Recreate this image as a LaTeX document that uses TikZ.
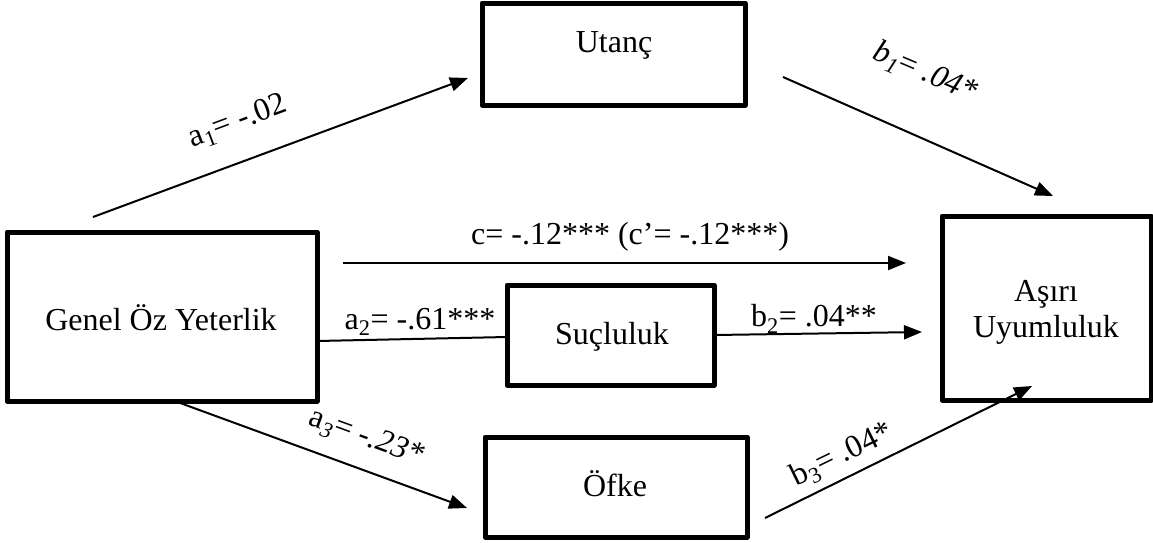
\documentclass[tikz,border=0pt]{standalone}
\usepackage{fontspec}
\setmainfont{Liberation Serif}
\usetikzlibrary{arrows.meta}
\begin{document}
\begin{tikzpicture}[x=1pt,y=-1pt,
  box/.style={draw,line width=5pt,line join=round,inner sep=0pt},
  txt/.style={font=\fontsize{32}{38}\selectfont,inner sep=0pt,align=center},
  conn/.style={line width=2pt,-{Triangle[length=18pt,width=14pt]}},
  plain/.style={line width=2pt}]
\useasboundingbox (0,0) rectangle (1153,542);
% boxes
\node[box,minimum width=310pt,minimum height=169pt] (genel) at (162,316.5) {};
\node[box,minimum width=263pt,minimum height=102pt] (utanc) at (613.5,54) {};
\node[box,minimum width=207pt,minimum height=100pt] (sucluluk) at (610.5,335) {};
\node[box,minimum width=262pt,minimum height=100pt] (ofke) at (616,487) {};
\node[box,minimum width=209pt,minimum height=184pt] (asiri) at (1046.5,308) {};
% box texts
\node[txt] (tgenel) at (161,318) {Genel Öz Yeterlik};
\node[txt] (tutanc) at (614,45) {Utanç};
\node[txt] (tsuc) at (612,337) {Suçluluk};
\node[txt] (tofke) at (615,484) {Öfke};
\node[txt] (tasiri) at (1046,312) {Aşırı\\[-2pt]Uyumluluk};
% connector end points
\coordinate (a1s) at (93,217);
\coordinate (a1e) at (468,78);
\coordinate (b1s) at (783,77);
\coordinate (b1e) at (1053,196);
\coordinate (cs) at (343,263);
\coordinate (ce) at (906,263);
\coordinate (a2s) at (317,341);
\coordinate (a2e) at (507,337);
\coordinate (b2s) at (714,335);
\coordinate (b2e) at (922,332);
\coordinate (a3s) at (172,400);
\coordinate (a3e) at (467,508);
\coordinate (b3s) at (765,518);
\coordinate (b3e) at (1032,386);
% connectors
\draw[conn] (a1s) -- (a1e);
\draw[conn] (b1s) -- (b1e);
\draw[conn] (cs) -- (ce);
\draw[plain] (a2s) -- (a2e);
\draw[conn] (b2s) -- (b2e);
\draw[conn] (a3s) -- (a3e);
\draw[conn] (b3s) -- (b3e);
% labels
\node[txt,rotate=20.5] (la1) at (238,122) {a\textsubscript{1}= -.02};
\node[txt,rotate=-23] (lb1) at (925,73) {\textit{b}\textsubscript{\textit{1}}= \textit{.04*}};
\node[txt] (lc) at (630,237) {c= -.12*** (c’= -.12***)};
\node[txt] (la2) at (420,322) {a\textsubscript{2}= -.61***};
\node[txt] (lb2) at (814,319) {b\textsubscript{2}= .04**};
\node[txt,rotate=-20] (la3) at (366,438) {a\textsubscript{\textit{3}}= -\textit{.23*}};
\node[txt,rotate=26] (lb3) at (842,455) {b\textsubscript{3}= .04*};
\end{tikzpicture}
\end{document}
